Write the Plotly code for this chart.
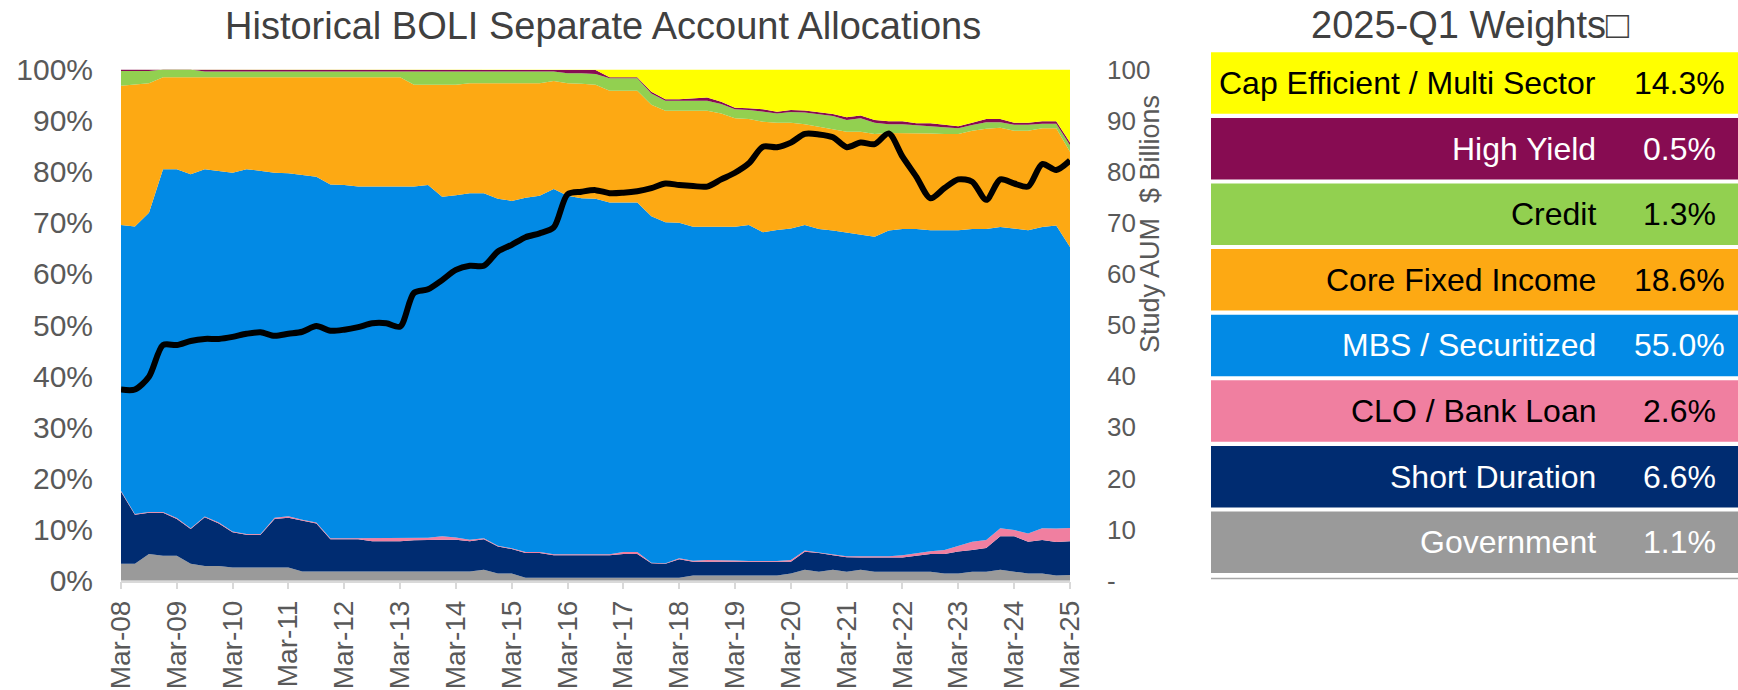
import pandas as pd
import plotly.graph_objects as go

# ---------------- data ----------------
quarters = pd.date_range("2008-03-31", "2025-03-31", freq="QE")

series_names = ["Government", "Short Duration", "CLO / Bank Loan", "MBS / Securitized",
                "Core Fixed Income", "Credit", "High Yield", "Cap Efficient / Multi Sector"]
series_colors = ["#9A9A9A", "#002C71", "#F07FA0", "#028AE5",
                 "#FDA913", "#92D050", "#870C52", "#FFFF00"]
label_colors = ["white", "white", "black", "white", "black", "black", "white", "black"]

government = [3.3, 3.3, 5.2, 4.9, 4.9, 3.3, 2.9, 2.9, 2.6, 2.6, 2.6, 2.6, 2.6,
              1.8, 1.8, 1.8, 1.8, 1.8, 1.8, 1.8, 1.8, 1.8, 1.8, 1.8, 1.8, 1.8,
              2.15, 1.4, 1.4, 0.6, 0.6, 0.6, 0.6, 0.6, 0.6, 0.6, 0.6, 0.6, 0.6, 0.6, 0.6,
              1.0, 1.0, 1.0, 1.0, 1.0, 1.0, 1.0, 1.4, 2.15, 1.75, 2.15, 1.75, 2.15,
              1.75, 1.75, 1.75, 1.75, 1.75, 1.4, 1.4, 1.75, 1.75, 2.15, 1.75, 1.4, 1.4, 1.0, 1.1]
short_duration = [14.1, 9.6, 8.1, 8.4, 7.2, 6.8, 9.5, 8.3, 6.9, 6.4, 6.4, 9.5, 9.7,
                  9.9, 9.4, 6.3, 6.3, 6.3, 5.9, 5.9, 5.9, 6.1, 6.2, 6.2, 6.2, 5.9,
                  5.95, 5.3, 4.8, 4.8, 4.8, 4.4, 4.4, 4.4, 4.4, 4.4, 4.6, 4.6, 2.8, 2.7, 3.6,
                  2.7, 2.7, 2.7, 2.7, 2.7, 2.7, 2.7, 2.3, 3.5, 3.65, 2.85, 2.85, 2.4,
                  2.8, 2.8, 2.8, 3.15, 3.45, 3.8, 4.3, 4.25, 4.65, 6.55, 6.95, 6.2, 6.55, 6.55, 6.6]
clo_bank_loan = [0.2, 0.15, 0.15, 0.15, 0.15, 0.15, 0.15, 0.2, 0.15, 0.15, 0.15, 0.2, 0.3,
                 0.2, 0.2, 0.2, 0.2, 0.2, 0.65, 0.65, 0.65, 0.45, 0.4, 0.7, 0.45, 0.3,
                 0.2, 0.15, 0.15, 0.2, 0.2, 0.15, 0.15, 0.15, 0.15, 0.15, 0.4, 0.4, 0.1, 0.1, 0.2,
                 0.2, 0.35, 0.35, 0.27, 0.15, 0.15, 0.15, 0.35, 0.25, 0.1, 0.15, 0.2, 0.25,
                 0.25, 0.25, 0.45, 0.5, 0.57, 0.8, 1.1, 1.6, 1.55, 1.55, 1.2, 1.65, 2.3, 2.65, 2.6]
mbs_securitized = [52.0, 56.25, 58.55, 67.05, 68.3, 69.3, 67.95, 68.7, 70.2, 71.35, 70.95, 67.55, 67.1,
                   67.5, 67.6, 69.2, 69.1, 68.8, 68.75, 68.75, 68.75, 68.75, 69.0, 66.4, 66.95, 67.8,
                   67.5, 67.9, 67.95, 69.3, 69.7, 71.45, 70.15, 69.65, 69.55, 68.85, 68.4, 68.4, 67.8, 66.7, 65.6,
                   65.35, 65.2, 65.2, 65.28, 65.75, 64.3, 64.75, 64.85, 63.7, 63.3, 63.35, 63.3, 63.0,
                   62.5, 63.7, 63.8, 63.4, 62.78, 62.55, 61.75, 61.2, 60.84, 58.95, 59.0, 59.29, 58.95, 59.3, 55.0]
core_fixed_income = [27.2, 27.75, 25.3, 18.0, 18.0, 19.0, 18.0, 18.4, 18.7, 18.0, 18.4, 18.7, 18.8,
                     19.1, 19.5, 21.0, 21.1, 21.4, 21.4, 21.4, 21.4, 19.9, 19.6, 21.9, 21.6, 21.5,
                     21.5, 22.6, 23.0, 22.4, 22.0, 21.15, 22.0, 22.4, 22.3, 21.85, 21.85, 21.85, 21.8, 21.85, 21.95,
                     22.7, 22.7, 22.15, 21.2, 20.7, 21.65, 21.0, 20.7, 19.7, 20.0, 19.9, 19.7, 20.0,
                     20.1, 19.1, 18.8, 18.8, 18.95, 18.85, 18.85, 19.2, 19.6, 19.4, 19.1, 19.45, 19.3, 19.0, 18.6]
credit = [2.9, 2.7, 2.4, 1.5, 1.5, 1.5, 1.1, 1.1, 1.1, 1.1, 1.1, 1.1, 1.1,
          1.1, 1.1, 1.1, 1.1, 1.1, 1.1, 1.1, 1.1, 2.6, 2.6, 2.6, 2.6, 2.3,
          2.3, 2.3, 2.3, 2.3, 2.3, 1.85, 1.95, 2.05, 2.1, 2.45, 2.45, 2.45, 2.2, 1.95, 1.95,
          1.95, 1.95, 1.85, 1.75, 1.8, 1.95, 1.8, 2.1, 2.3, 2.45, 2.5, 2.3, 2.65,
          2.2, 1.7, 1.7, 1.5, 1.4, 1.4, 1.1, 1.15, 1.3, 1.1, 1.2, 1.2, 0.9, 0.9, 1.3]
high_yield = [0.3, 0.3, 0.3, 0.0, 0.0, 0.0, 0.4, 0.4, 0.4, 0.4, 0.4, 0.4, 0.4,
              0.4, 0.4, 0.4, 0.4, 0.4, 0.4, 0.4, 0.4, 0.4, 0.4, 0.4, 0.4, 0.4,
              0.4, 0.4, 0.4, 0.4, 0.4, 0.4, 0.75, 0.75, 0.8, 0.2, 0.2, 0.2, 0.35, 0.3, 0.3,
              0.5, 0.6, 0.45, 0.3, 0.3, 0.45, 0.35, 0.4, 0.4, 0.35, 0.4, 0.55, 0.55,
              0.5, 0.6, 0.6, 0.4, 0.6, 0.35, 0.4, 0.45, 0.6, 0.6, 0.4, 0.4, 0.5, 0.5, 0.5]
cap_efficient = [0, 0, 0, 0, 0, 0, 0, 0, 0, 0, 0, 0, 0,
                 0, 0, 0, 0, 0, 0, 0, 0, 0, 0, 0, 0, 0,
                 0, 0, 0, 0, 0, 0, 0, 0, 0.1, 1.5, 1.5, 1.5, 4.35, 5.8, 5.8,
                 5.6, 5.5, 6.3, 7.5, 7.6, 7.8, 8.25, 7.9, 8.0, 8.4, 8.7, 9.35, 9.0,
                 9.9, 10.1, 10.1, 10.5, 10.5, 10.85, 11.1, 10.4, 9.7, 9.7, 10.4, 10.4, 10.1, 10.1, 14.3]
study_aum = [37.4, 37.4, 39.9, 46.1, 46.1, 46.9, 47.3, 47.3, 47.7, 48.3,
             48.6, 47.9, 48.3, 48.7, 49.8, 48.9, 49.1, 49.6, 50.35, 50.35,
             49.7, 56.3, 57.0, 58.8, 60.8, 61.6, 61.6, 64.4, 65.7, 67.2,
             67.95, 69.1, 75.6, 76.1, 76.4, 75.8, 75.9, 76.2, 76.8, 77.7,
             77.4, 77.2, 77.1, 78.5, 79.8, 81.65, 84.9, 84.8, 85.7, 87.4,
             87.3, 86.75, 84.8, 85.7, 85.4, 87.5, 82.95, 79.0, 74.8, 76.8,
             78.5, 78.05, 74.5, 78.5, 77.7, 77.1, 81.5, 80.35, 82.2]

all_series = [government, short_duration, clo_bank_loan, mbs_securitized,
              core_fixed_income, credit, high_yield, cap_efficient]

pct_ticks = list(range(0, 101, 10))
pct_ticktext = [f"{v}%" for v in pct_ticks]
aum_ticks = list(range(0, 101, 10))
aum_ticktext = ["-"] + [str(v) for v in aum_ticks[1:]]
table_title = "2025-Q1 Weights\u25a1"
chart_title = "Historical BOLI Separate Account Allocations"

# ---------------- figure ----------------
FONT = "Liberation Sans, Arial, sans-serif"
W, H = 1738, 690
fig = go.Figure()

for name, vals, col in zip(series_names, all_series, series_colors):
    fig.add_trace(go.Scatter(
        x=quarters, y=vals, name=name, mode="lines", stackgroup="one",
        groupnorm="percent", line=dict(width=0, color=col), fillcolor=col,
        hoverinfo="x+y+name"))

fig.add_trace(go.Scatter(
    x=quarters, y=study_aum, name="Study AUM", mode="lines", yaxis="y2",
    line=dict(color="black", width=6, shape="spline", smoothing=0.8)))

march = [d for d in quarters if d.month == 3]
x_dom = [121 / W, 1070 / W]
y_dom = [(H - 580.7) / H, (H - 69.5) / H]

fig.update_layout(
    width=W, height=H, autosize=False,
    margin=dict(l=0, r=0, t=0, b=0, pad=0),
    paper_bgcolor="white", plot_bgcolor="white",
    showlegend=False,
    font=dict(family=FONT, color="#595959"),
    xaxis=dict(domain=x_dom, range=[quarters[0], quarters[-1]], automargin=False,
               tickvals=march, ticktext=[d.strftime("%b-%y") for d in march],
               tickangle=-90, tickfont=dict(size=28, color="#595959"),
               ticks="outside", ticklen=7, tickcolor="#D9D9D9", tickwidth=1.5,
               showline=True, linecolor="#D9D9D9", linewidth=1.5,
               showgrid=False, zeroline=False),
    yaxis=dict(domain=y_dom, range=[0, 100], automargin=False,
               tickvals=pct_ticks, ticktext=pct_ticktext,
               tickfont=dict(size=30, color="#595959"), showgrid=False,
               zeroline=False, showline=False, ticklabelstandoff=27),
    yaxis2=dict(domain=y_dom, range=[0, 100], overlaying="y", side="right", automargin=False,
                tickvals=aum_ticks, ticktext=aum_ticktext,
                tickfont=dict(size=26, color="#595959"), showgrid=False,
                zeroline=False, showline=False, ticklabelstandoff=36),
)

annotations = [
    dict(text=chart_title, x=603 / W, y=1 - 26 / H, xref="paper", yref="paper",
         xanchor="center", yanchor="middle", showarrow=False,
         font=dict(size=38, color="#404040", family=FONT)),
    dict(text="Study AUM  $ Billions", x=1150 / W, y=1 - 224 / H, xref="paper", yref="paper",
         xanchor="center", yanchor="middle", textangle=-90, showarrow=False,
         font=dict(size=27, color="#595959", family=FONT)),
    dict(text=table_title, x=1470 / W, y=1 - 25 / H, xref="paper", yref="paper",
         xanchor="center", yanchor="middle", showarrow=False,
         font=dict(size=38, color="#404040", family=FONT)),
]

shapes = []
row_top0, row_pitch, row_h = 52.3, 65.6, 61.5
order = list(range(len(series_names)))[::-1]
for k, idx in enumerate(order):
    top = row_top0 + k * row_pitch
    y1 = 1 - top / H
    y0 = 1 - (top + row_h) / H
    ym = (y0 + y1) / 2
    shapes.append(dict(type="rect", xref="paper", yref="paper", x0=1211 / W, x1=1.0,
                       y0=y0, y1=y1, fillcolor=series_colors[idx], line=dict(width=0)))
    annotations.append(dict(text=series_names[idx], x=1598 / W, y=ym, xref="paper", yref="paper",
                            xanchor="right", yanchor="middle", showarrow=False,
                            font=dict(size=32, color=label_colors[idx], family=FONT)))
    annotations.append(dict(text=f"{all_series[idx][-1]:.1f}%", x=1679 / W, y=ym,
                            xref="paper", yref="paper", xanchor="center", yanchor="middle",
                            showarrow=False,
                            font=dict(size=32, color=label_colors[idx], family=FONT)))
shapes.append(dict(type="line", xref="paper", yref="paper", x0=1211 / W, x1=1.0,
                   y0=1 - 578.5 / H, y1=1 - 578.5 / H, line=dict(color="#A6A6A6", width=1.5)))

fig.update_layout(annotations=annotations, shapes=shapes)
fig.write_html("out.html", config={"displayModeBar": False},
               post_script="document.body.style.margin='0';document.body.style.overflow='hidden';")
